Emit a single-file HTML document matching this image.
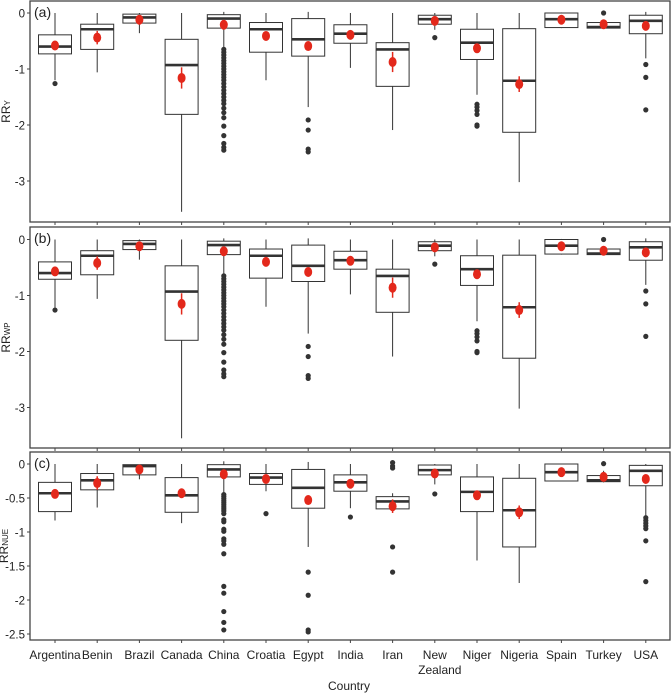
<!DOCTYPE html>
<html><head><meta charset="utf-8"><style>
body{margin:0;background:#fff;}
svg{display:block;font-family:"Liberation Sans",sans-serif;}
</style></head><body>
<svg id="chart" width="672" height="693" xmlns="http://www.w3.org/2000/svg"></svg>
<script>
const countries=["Argentina","Benin","Brazil","Canada","China","Croatia","Egypt","India","Iran","New Zealand","Niger","Nigeria","Spain","Turkey","USA"];
// Panel (a) RR_Y
const aLo=[-1.20,-1.06,-0.36,-3.55,-0.62,-1.20,-1.68,-0.98,-2.09,-0.30,-1.46,-3.02,-0.27,-0.28,-0.81];
const aQ1=[-0.73,-0.65,-0.18,-1.81,-0.27,-0.70,-0.77,-0.54,-1.31,-0.20,-0.83,-2.13,-0.26,-0.27,-0.37];
const aMed=[-0.60,-0.29,-0.08,-0.93,-0.10,-0.29,-0.47,-0.37,-0.65,-0.11,-0.53,-1.21,-0.11,-0.25,-0.14];
const aQ3=[-0.39,-0.20,-0.02,-0.47,-0.03,-0.17,-0.10,-0.21,-0.53,-0.04,-0.29,-0.28,0.00,-0.17,-0.04];
const aHi=[0,0,0,0,0.02,0,0.02,0,0,0,0,0,0.01,-0.12,0.02];
const aMean=[-0.58,-0.44,-0.12,-1.16,-0.21,-0.41,-0.59,-0.39,-0.875,-0.14,-0.63,-1.27,-0.12,-0.20,-0.23];
const aErr=[0.05,0.12,0.05,0.19,0.04,0.05,0.07,0.04,0.18,0.05,0.06,0.14,0.04,0.04,0.05];
const aOut=[[-1.26],[],[],[],[-0.65,-0.70,-0.75,-0.80,-0.85,-0.90,-0.95,-1.00,-1.05,-1.10,-1.15,-1.20,-1.26,-1.32,-1.38,-1.44,-1.50,-1.56,-1.62,-1.70,-1.78,-1.87,-2.02,-2.19,-2.33,-2.40,-2.45],[],[-1.91,-2.09,-2.43,-2.48],[],[],[-0.44],[-1.63,-1.68,-1.74,-1.81,-2.00,-2.02],[],[],[0.0],[-0.92,-1.15,-1.73]];
// Panel (b) RR_WP
const bLo=[-1.22,-1.06,-0.36,-3.55,-0.62,-1.20,-1.68,-0.98,-2.09,-0.30,-1.46,-3.02,-0.27,-0.28,-0.81];
const bQ1=[-0.71,-0.63,-0.18,-1.80,-0.27,-0.69,-0.75,-0.53,-1.30,-0.20,-0.82,-2.12,-0.26,-0.27,-0.37];
const bMed=[-0.60,-0.29,-0.08,-0.93,-0.10,-0.29,-0.47,-0.37,-0.65,-0.11,-0.53,-1.21,-0.11,-0.25,-0.14];
const bQ3=[-0.40,-0.20,-0.02,-0.47,-0.03,-0.17,-0.10,-0.21,-0.53,-0.04,-0.29,-0.28,0.00,-0.17,-0.04];
const bHi=[0,0,0,0,0.02,0,0.02,0,0,0,0,0,0.01,-0.12,0.02];
const bMean=[-0.57,-0.42,-0.12,-1.15,-0.21,-0.40,-0.58,-0.38,-0.86,-0.14,-0.62,-1.26,-0.12,-0.20,-0.23];
const bErr=[0.05,0.12,0.05,0.19,0.04,0.05,0.07,0.04,0.18,0.05,0.06,0.14,0.04,0.04,0.05];
const bOut=[[-1.26],[],[],[],[-0.65,-0.70,-0.75,-0.80,-0.85,-0.90,-0.95,-1.00,-1.05,-1.10,-1.15,-1.20,-1.26,-1.32,-1.38,-1.44,-1.50,-1.56,-1.62,-1.70,-1.78,-1.87,-2.02,-2.19,-2.33,-2.40,-2.45],[],[-1.91,-2.09,-2.43,-2.48],[],[],[-0.44],[-1.63,-1.68,-1.74,-1.81,-2.00,-2.02],[],[],[0.0],[-0.92,-1.15,-1.73]];
// Panel (c) RR_NUE
const cLo=[-0.83,-0.64,-0.225,-0.87,-0.42,-0.40,-1.22,-0.65,-0.70,-0.30,-1.42,-1.75,-0.25,-0.27,-0.76];
const cQ1=[-0.70,-0.38,-0.16,-0.71,-0.19,-0.30,-0.65,-0.40,-0.66,-0.16,-0.70,-1.22,-0.25,-0.26,-0.32];
const cMed=[-0.43,-0.24,-0.03,-0.46,-0.08,-0.20,-0.35,-0.27,-0.55,-0.09,-0.41,-0.68,-0.12,-0.24,-0.10];
const cQ3=[-0.27,-0.14,-0.01,-0.20,-0.01,-0.14,-0.08,-0.16,-0.48,-0.015,-0.19,-0.21,0.00,-0.17,-0.02];
const cHi=[0,0,-0.01,0,0.04,0,0.03,0,-0.43,0,0,0,0,-0.10,0];
const cMean=[-0.44,-0.28,-0.08,-0.43,-0.15,-0.22,-0.53,-0.29,-0.62,-0.14,-0.46,-0.71,-0.12,-0.19,-0.22];
const cErr=[0.04,0.10,0.04,0.06,0.04,0.05,0.06,0.04,0.10,0.04,0.04,0.10,0.04,0.04,0.04];
const cOut=[[],[],[],[],[-0.45,-0.48,-0.51,-0.54,-0.57,-0.60,-0.63,-0.66,-0.69,-0.73,-0.82,-0.85,-0.96,-0.99,-1.10,-1.13,-1.18,-1.32,-1.80,-1.90,-2.17,-2.33,-2.44],[-0.73],[-1.59,-1.93,-2.44,-2.47],[-0.78],[0.02,-0.03,-0.06,-1.22,-1.59],[-0.44],[],[],[],[0.005],[-0.79,-0.83,-0.87,-0.91,-0.95,-1.13,-1.73]];
const ticksAB=[0,-1,-2,-3];
const ticksC=[0,-0.5,-1,-1.5,-2,-2.5];
const tickLabelsAB=["0","-1","-2","-3"];
const tickLabelsC=["0","-0.5","-1","-1.5","-2","-2.5"];

const NS="http://www.w3.org/2000/svg";
const svg=document.getElementById('chart');
function mk(tag,attrs,parent){const e=document.createElementNS(NS,tag);for(const k in attrs)e.setAttribute(k,attrs[k]);(parent||svg).appendChild(e);return e;}
const L=30,R=670;
function xPos(i){return 55+42.2*i;}
const panels=[
 {key:'a',label:'(a)',sub:'Y',tx:10,top:1,bottom:222,y0:13,s:56,lo:aLo,q1:aQ1,med:aMed,q3:aQ3,hi:aHi,mean:aMean,err:aErr,out:aOut,ticks:ticksAB,tl:tickLabelsAB},
 {key:'b',label:'(b)',sub:'WP',tx:10,top:227,bottom:448,y0:239.5,s:56,lo:bLo,q1:bQ1,med:bMed,q3:bQ3,hi:bHi,mean:bMean,err:bErr,out:bOut,ticks:ticksAB,tl:tickLabelsAB},
 {key:'c',label:'(c)',sub:'NUE',tx:8,top:452,bottom:640,y0:464,s:68,lo:cLo,q1:cQ1,med:cMed,q3:cQ3,hi:cHi,mean:cMean,err:cErr,out:cOut,ticks:ticksC,tl:tickLabelsC}
];
panels.forEach(p=>{
 const g=mk('g',{});
 
 
 const y=v=>p.y0-v*p.s;
 const fr=mk('rect',{x:L,y:p.top,width:R-L,height:p.bottom-p.top,fill:'none',stroke:'#444','stroke-width':1.3},g);
 
 
 p.ticks.forEach((t,k)=>{
  const ty=y(t);
  mk('line',{x1:L-3,x2:L,y1:ty,y2:ty,stroke:'#444'},g);
  const tx=mk('text',{x:L-5,y:ty+4.5,'text-anchor':'end','font-size':11.5,fill:'#222'},g);
  tx.textContent=p.tl[k];
  
  
 });
 const pl=mk('text',{x:34,y:p.top+16,'font-size':14,fill:'#222'},g);
 pl.textContent=p.label;
 
 
 const cy=(p.top+p.bottom)/2;
 const yt=mk('text',{x:0,y:0,'font-size':12,fill:'#222','text-anchor':'middle',transform:`translate(${p.tx},${cy}) rotate(-90)`},g);
 yt.innerHTML='RR<tspan font-size="8">'+p.sub+'</tspan>';
 
 
 countries.forEach((c,i)=>{
  const x=xPos(i),w=16.5;
  const bg=mk('g',{},g);
  
  
  mk('line',{x1:x,x2:x,y1:y(p.hi[i]),y2:y(p.q3[i]),stroke:'#333','stroke-width':1},bg);
  mk('line',{x1:x,x2:x,y1:y(p.q1[i]),y2:y(p.lo[i]),stroke:'#333','stroke-width':1},bg);
  mk('rect',{x:x-w,y:y(p.q3[i]),width:2*w,height:Math.max(1,y(p.q1[i])-y(p.q3[i])),fill:'#fff',stroke:'#333','stroke-width':1},bg);
  mk('line',{x1:x-w,x2:x+w,y1:y(p.med[i]),y2:y(p.med[i]),stroke:'#333','stroke-width':2.6},bg);
  p.out[i].forEach(o=>{
   const d=mk('circle',{cx:x,cy:y(o),r:2.6,fill:'#333'},bg);
   
   
  });
  mk('line',{x1:x,x2:x,y1:y(p.mean[i]+p.err[i]),y2:y(p.mean[i]-p.err[i]),stroke:'#e3281b','stroke-width':1.5},bg);
  const m=mk('ellipse',{cx:x,cy:y(p.mean[i]),rx:4,ry:5,fill:'#e3281b'},bg);
  
  
  mk('line',{x1:x,x2:x,y1:p.bottom,y2:p.bottom+3,stroke:'#444'},g);
 });
});
countries.forEach((c,i)=>{
 const x=xPos(i);
 const t=mk('text',{x:x,y:659,'text-anchor':'middle','font-size':12,fill:'#222'});
 
 
 if(c==='New Zealand'){t.innerHTML='<tspan x="'+x+'">New</tspan><tspan x="'+(x+5)+'" dy="15">Zealand</tspan>';}
 else t.textContent=c;
});
const xt=mk('text',{x:349,y:690,'text-anchor':'middle','font-size':12,fill:'#222'});
xt.textContent='Country';


</script>
</body></html>
